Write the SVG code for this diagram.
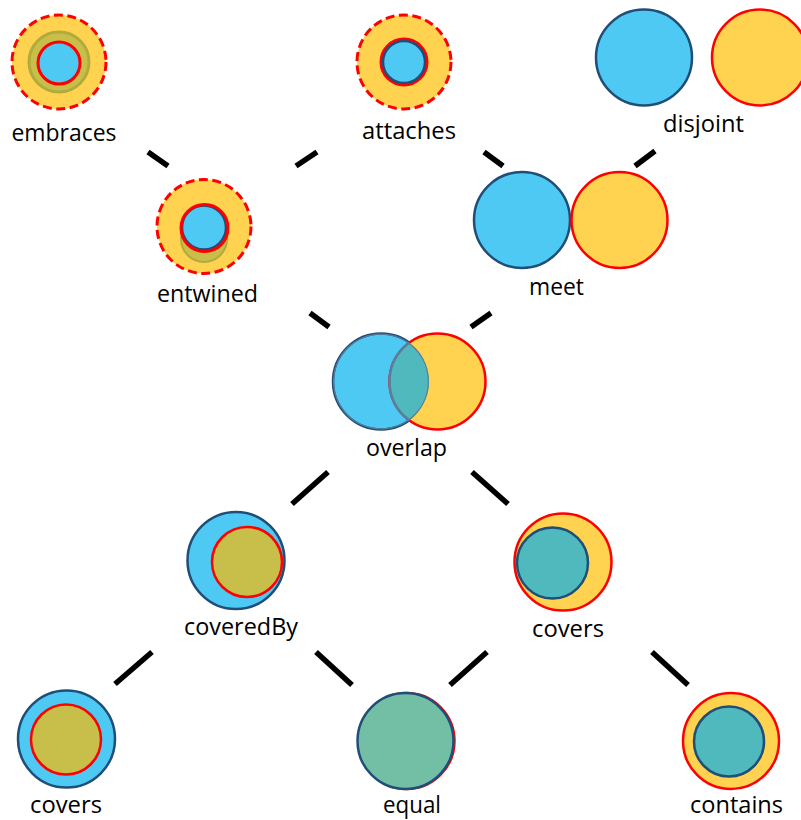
<svg xmlns="http://www.w3.org/2000/svg" width="801" height="820" viewBox="0 0 801 820">
<style>
.bl{fill:#4ec9f3;stroke:#1f4e79;stroke-width:2.5}
.ye{fill:#ffd34f;stroke:#ff0000;stroke-width:2.5}
.dash{fill:#ffd34f;stroke:#ff0000;stroke-width:3;stroke-dasharray:9 4.5}
.ol{fill:#c8bf4b;stroke:#ff0000;stroke-width:2.5}
.te{fill:#4fb9bd;stroke:#1f4e79;stroke-width:2.5}
.lbl{font-family:"Open Sans","Liberation Sans",sans-serif;font-size:23px;fill:#000;text-anchor:middle}
.conn line{stroke:#000;stroke-width:5.5;stroke-linecap:butt}
</style>
<defs>
<clipPath id="ovclip"><circle cx="381" cy="381.5" r="48"/></clipPath>
</defs>
<rect width="801" height="820" fill="#fff"/>
<g id="connectors" class="conn">
<line x1="148" y1="152" x2="168" y2="166"/>
<line x1="296" y1="166" x2="317" y2="152"/>
<line x1="484" y1="152" x2="503" y2="166"/>
<line x1="635" y1="166" x2="655" y2="151"/>
<line x1="310" y1="313" x2="329" y2="327"/>
<line x1="471" y1="327" x2="491" y2="313"/>
<line x1="292" y1="504" x2="328" y2="472"/>
<line x1="472" y1="472" x2="508" y2="504"/>
<line x1="115" y1="684" x2="152" y2="652"/>
<line x1="316" y1="652" x2="352" y2="685"/>
<line x1="450" y1="685" x2="487" y2="652"/>
<line x1="652" y1="652" x2="688" y2="685"/>
</g>
<g id="embraces">
<circle class="dash" cx="59" cy="62" r="47"/>
<circle cx="59" cy="62" r="30" fill="#c8bf4b" stroke="#b3aa3c" stroke-width="3"/>
<circle cx="59" cy="63" r="21" fill="#4ec9f3" stroke="#ff0000" stroke-width="3"/>
<text class="lbl" x="64" y="141" textLength="105" lengthAdjust="spacingAndGlyphs">embraces</text>
</g>
<g id="attaches">
<circle class="dash" cx="404" cy="62" r="47"/>
<circle cx="404" cy="62" r="23" fill="none" stroke="#ff0000" stroke-width="3"/>
<circle cx="404" cy="62" r="21" fill="#4ec9f3" stroke="#1f4e79" stroke-width="2.5"/>
<text class="lbl" x="409" y="139" textLength="94" lengthAdjust="spacingAndGlyphs">attaches</text>
</g>
<g id="disjoint">
<circle class="bl" cx="644" cy="57.5" r="48"/>
<circle class="ye" cx="760" cy="57.5" r="48"/>
<text class="lbl" x="703.5" y="132" textLength="81" lengthAdjust="spacingAndGlyphs">disjoint</text>
</g>
<g id="entwined">
<circle class="dash" cx="204" cy="226.5" r="47"/>
<circle cx="204" cy="239" r="23" fill="#c8bf4b" stroke="#b3aa3c" stroke-width="2"/>
<circle cx="204" cy="227.5" r="22" fill="#4ec9f3" stroke="#1f4e79" stroke-width="2.5"/>
<circle cx="204.5" cy="228" r="23.5" fill="none" stroke="#ff0000" stroke-width="3"/>
<text class="lbl" x="207.5" y="302" textLength="101" lengthAdjust="spacingAndGlyphs">entwined</text>
</g>
<g id="meet">
<circle class="bl" cx="522" cy="220" r="48"/>
<circle class="ye" cx="619.5" cy="220" r="48"/>
<text class="lbl" x="556.5" y="295" textLength="55" lengthAdjust="spacingAndGlyphs">meet</text>
</g>
<g id="overlap">
<circle class="bl" cx="381" cy="381.5" r="48"/>
<circle class="ye" cx="437.5" cy="381.5" r="48"/>
<g clip-path="url(#ovclip)">
<circle cx="437.5" cy="381.5" r="48" fill="#4fb9bd" stroke="#5a7e9c" stroke-width="2.5"/>
<circle cx="381" cy="381.5" r="48" fill="none" stroke="#5a7e9c" stroke-width="2.5"/>
</g>
<text class="lbl" x="406.5" y="456" textLength="81" lengthAdjust="spacingAndGlyphs">overlap</text>
</g>
<g id="coveredBy">
<circle class="bl" cx="236" cy="560.5" r="48.5"/>
<circle class="ol" cx="247" cy="562" r="35"/>
<text class="lbl" x="241" y="635" textLength="114" lengthAdjust="spacingAndGlyphs">coveredBy</text>
</g>
<g id="covers-right">
<circle class="ye" cx="563" cy="562" r="48.5"/>
<circle class="te" cx="552.5" cy="563" r="35.5"/>
<text class="lbl" x="568" y="637" textLength="72" lengthAdjust="spacingAndGlyphs">covers</text>
</g>
<g id="covers-left">
<circle class="bl" cx="66.5" cy="739" r="48.5"/>
<circle class="ol" cx="66" cy="739.5" r="35"/>
<text class="lbl" x="66" y="813" textLength="72" lengthAdjust="spacingAndGlyphs">covers</text>
</g>
<g id="equal">
<circle cx="406.5" cy="741" r="48" fill="none" stroke="#ff0000" stroke-width="2.5"/>
<circle cx="405.5" cy="741" r="48" fill="#72bfa5" stroke="#1f4e79" stroke-width="2.5"/>
<text class="lbl" x="412" y="813" textLength="58" lengthAdjust="spacingAndGlyphs">equal</text>
</g>
<g id="contains">
<circle class="ye" cx="731" cy="741" r="48"/>
<circle class="te" cx="729" cy="741.5" r="35"/>
<text class="lbl" x="736.5" y="813" textLength="93" lengthAdjust="spacingAndGlyphs">contains</text>
</g>
</svg>
